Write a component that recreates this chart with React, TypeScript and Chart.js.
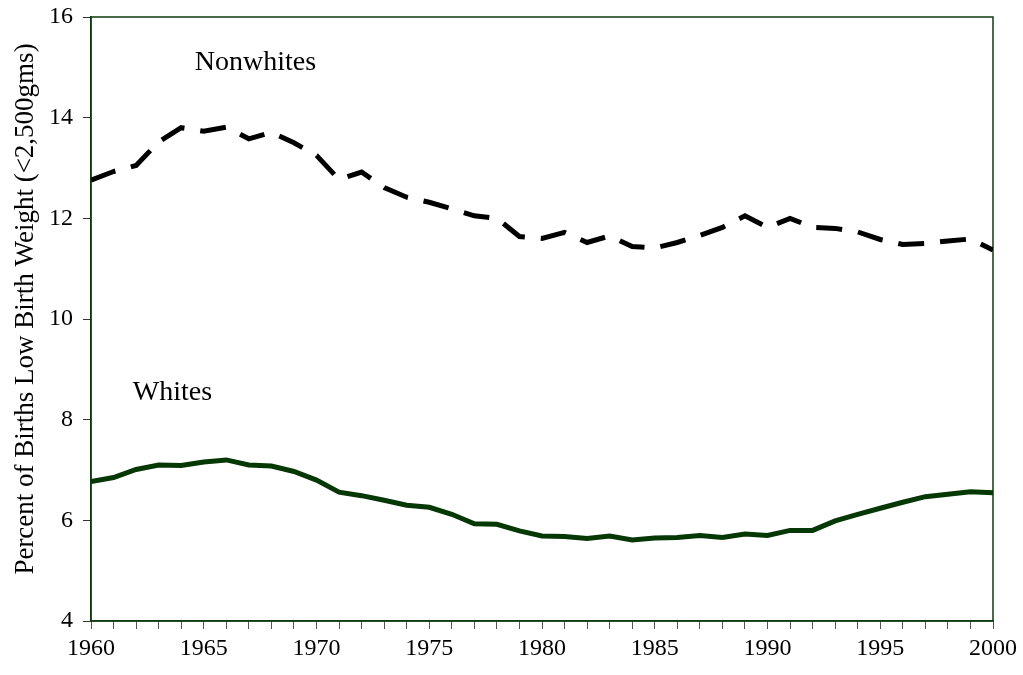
import React, { useEffect, useRef } from "react";
import { Chart, registerables } from "chart.js";

Chart.register(...registerables);

const years: number[] = [
  1960, 1961, 1962, 1963, 1964, 1965, 1966, 1967, 1968, 1969,
  1970, 1971, 1972, 1973, 1974, 1975, 1976, 1977, 1978, 1979,
  1980, 1981, 1982, 1983, 1984, 1985, 1986, 1987, 1988, 1989,
  1990, 1991, 1992, 1993, 1994, 1995, 1996, 1997, 1998, 1999, 2000,
];

const nonwhites: number[] = [
  12.76, 12.93, 13.05, 13.52, 13.8, 13.73, 13.81, 13.58, 13.71, 13.5,
  13.25, 12.77, 12.92, 12.61, 12.42, 12.32, 12.19, 12.05, 12.0, 11.64,
  11.6, 11.72, 11.52, 11.65, 11.44, 11.41, 11.52, 11.66, 11.82, 12.05,
  11.82, 12.0, 11.82, 11.8, 11.73, 11.58, 11.48, 11.5, 11.55, 11.59, 11.37,
];

const whites: number[] = [
  6.77, 6.85, 7.01, 7.1, 7.09, 7.16, 7.2, 7.1, 7.08, 6.97,
  6.8, 6.56, 6.49, 6.4, 6.3, 6.26, 6.12, 5.93, 5.92, 5.79,
  5.69, 5.68, 5.64, 5.69, 5.61, 5.65, 5.66, 5.7, 5.66, 5.73,
  5.7, 5.8, 5.8, 5.99, 6.12, 6.24, 6.36, 6.47, 6.52, 6.57, 6.55,
];

const yTicks: number[] = [4, 6, 8, 10, 12, 14, 16];
const yTitle = "Percent of Births Low Birth Weight (<2,500gms)";
const seriesLabels: string[] = ["Nonwhites", "Whites"];

const FONT = "'Liberation Serif', 'Times New Roman', serif";
const FRAME = "#0f3a0f";

export default function App() {
  const ref = useRef<HTMLCanvasElement | null>(null);

  useEffect(() => {
    document.body.style.margin = "0";
    const canvas = ref.current;
    if (!canvas) return;

    const boxPlugin = {
      id: "box",
      beforeDatasetsDraw(chart: any) {
        const { ctx, chartArea } = chart;
        ctx.save();
        ctx.strokeStyle = FRAME;
        ctx.lineWidth = 1.5;
        ctx.strokeRect(chartArea.left, chartArea.top, chartArea.right - chartArea.left, chartArea.bottom - chartArea.top);
        ctx.restore();
      },
      afterDatasetsDraw(chart: any) {
        const { ctx, scales, chartArea } = chart;
        ctx.save();
        ctx.fillStyle = "#000";
        ctx.font = `28px ${FONT}`;
        ctx.textBaseline = "middle";
        ctx.textAlign = "left";
        ctx.fillText(seriesLabels[0], scales.x.getPixelForValue(1964.6), scales.y.getPixelForValue(15.1));
        ctx.fillText(seriesLabels[1], scales.x.getPixelForValue(1961.85), scales.y.getPixelForValue(8.53));
        // y axis title
        ctx.font = `27px ${FONT}`;
        ctx.textAlign = "center";
        ctx.translate(chartArea.left - 65, (chartArea.top + chartArea.bottom) / 2 - 10);
        ctx.rotate(-Math.PI / 2);
        ctx.fillText(yTitle, 0, 0);
        ctx.restore();
      },
    };

    const chart = new Chart(canvas, {
      type: "line",
      data: {
        datasets: [
          {
            label: seriesLabels[0],
            data: years.map((yr, i) => ({ x: yr, y: nonwhites[i] })),
            borderColor: "#000000",
            borderWidth: 5,
            borderDash: [26, 16],
            pointRadius: 0,
            tension: 0,
            borderCapStyle: "butt",
          },
          {
            label: seriesLabels[1],
            data: years.map((yr, i) => ({ x: yr, y: whites[i] })),
            borderColor: "#063806",
            borderWidth: 5,
            pointRadius: 0,
            tension: 0,
          },
        ],
      },
      options: {
        animation: false,
        responsive: false,
        devicePixelRatio: 1,
        layout: { padding: { top: 17, right: 30, left: 0, bottom: 0 } },
        plugins: {
          legend: { display: false },
          tooltip: { enabled: false },
        },
        scales: {
          x: {
            type: "linear",
            min: 1960,
            max: 2000,
            afterFit: (s: any) => {
              s.height = 54;
              s.paddingLeft = 0;
              s.paddingRight = 0;
            },
            afterBuildTicks: (s: any) => {
              s.ticks = years.map((v) => ({ value: v }));
            },
            ticks: {
              autoSkip: false,
              maxRotation: 0,
              padding: 5,
              color: "#000",
              font: { family: FONT, size: 24 },
              callback: (v: any) => (Number(v) % 5 === 0 ? String(v) : ""),
            },
            grid: {
              drawOnChartArea: false,
              drawTicks: true,
              tickLength: 8,
              color: "#555",
            },
            border: { display: true, color: FRAME, width: 1.5 },
          },
          y: {
            type: "linear",
            min: 4,
            max: 16,
            afterFit: (s: any) => {
              s.width = 91;
              s.paddingTop = 0;
              s.paddingBottom = 0;
            },
            afterBuildTicks: (s: any) => {
              s.ticks = yTicks.map((v) => ({ value: v }));
            },
            ticks: {
              padding: 10,
              color: "#000",
              font: { family: FONT, size: 24 },
            },
            grid: {
              drawOnChartArea: false,
              drawTicks: true,
              tickLength: 8,
              color: "#333",
            },
            border: { display: true, color: FRAME, width: 1.5 },
            title: { display: false },
          },
        },
      },
      plugins: [boxPlugin],
    } as any);

    return () => chart.destroy();
  }, []);

  return (
    <div style={{ position: "absolute", left: 0, top: 0, width: 1023, height: 675 }}>
      <canvas ref={ref} width={1023} height={675} style={{ display: "block", width: 1023, height: 675 }} />
    </div>
  );
}
